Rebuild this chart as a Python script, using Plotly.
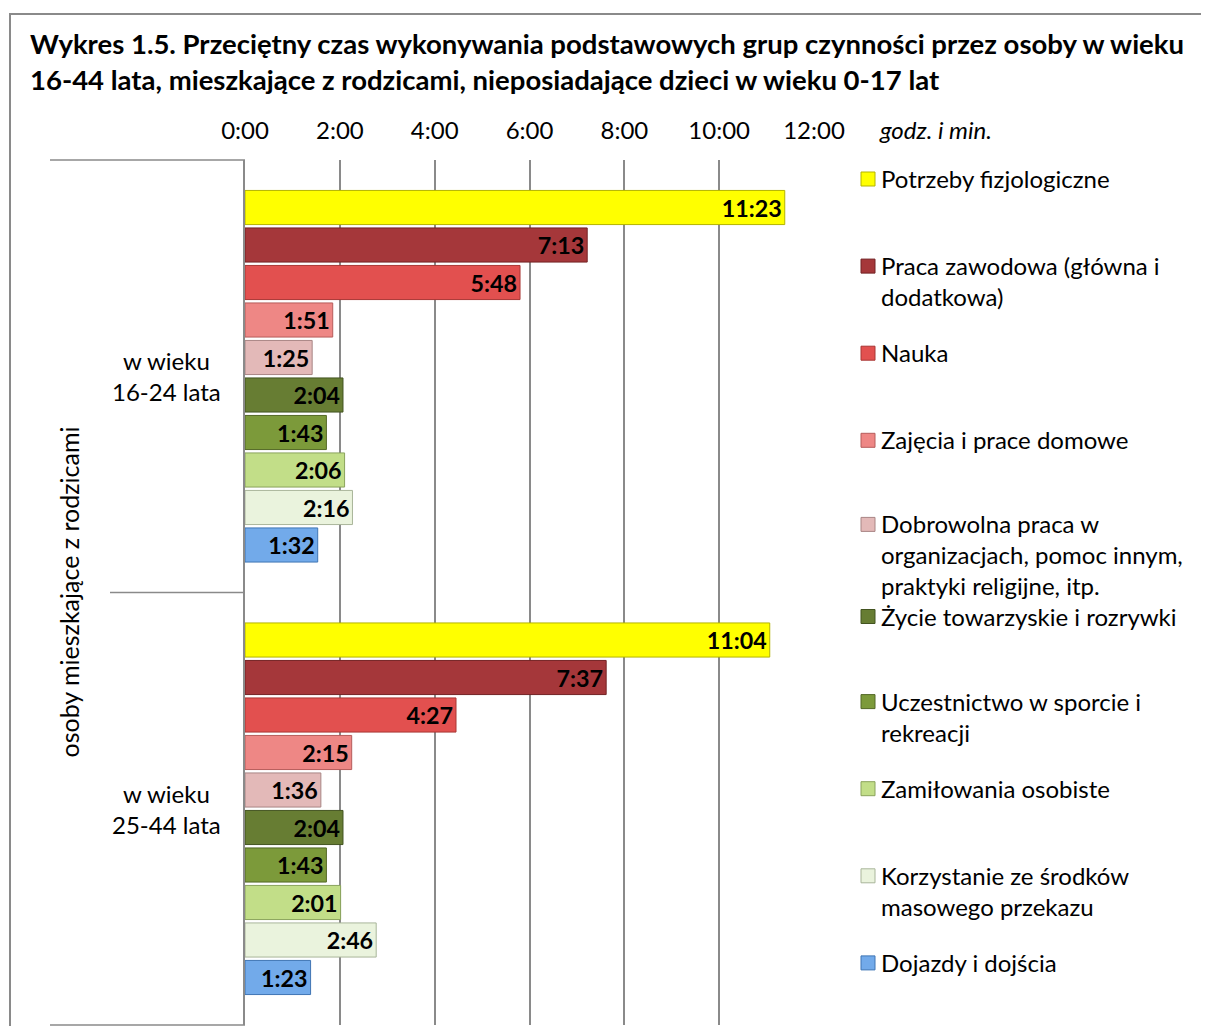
"""Average time spent on basic activity groups, people aged 16-44 living with parents."""
import plotly.graph_objects as go

groups = ["w wieku<br>16-24 lata", "w wieku<br>25-44 lata"]
activities = [
    "Potrzeby fizjologiczne",
    "Praca zawodowa (główna i<br>dodatkowa)",
    "Nauka",
    "Zajęcia i prace domowe",
    "Dobrowolna praca w<br>organizacjach, pomoc innym,<br>praktyki religijne, itp.",
    "Życie towarzyskie i rozrywki",
    "Uczestnictwo w sporcie i<br>rekreacji",
    "Zamiłowania osobiste",
    "Korzystanie ze środków<br>masowego przekazu",
    "Dojazdy i dojścia",
]
# minutes per day
minutes_16_24 = [683, 433, 348, 111, 85, 124, 103, 126, 136, 92]
minutes_25_44 = [664, 457, 267, 135, 96, 124, 103, 121, 166, 83]
tick_minutes = [0, 120, 240, 360, 480, 600, 720]
tick_labels = ["0:00", "2:00", "4:00", "6:00", "8:00", "10:00", "12:00"]

colors = ["#ffff00", "#a5373a", "#e2504f", "#ee8785", "#e3b9b8",
          "#677d33", "#7c9a3a", "#c2de88", "#eaf3dd", "#72aaea"]
edges = ["#b4b400", "#732224", "#a83634", "#b65c5a", "#a88584",
         "#435421", "#536826", "#8aa35c", "#a9b59a", "#3f75b4"]

FONT = "Lato"
OFF = 8  # page body margin
W, H = 1201, 1018
L, T = 245 - OFF, 160 - OFF
R, B = W - (814 - OFF), H - (1025 - OFF)
PW, PH = W - L - R, H - T - B


def px_x(x):
    """Page pixel x -> paper x."""
    return (x - OFF - L) / PW


def px_y(y):
    """Page pixel y -> paper y."""
    return (H - B - (y - OFF)) / PH


def hmm(m):
    return f"{m // 60}:{m % 60:02d}"


fig = go.Figure()
for i, name in enumerate(activities):
    vals = [minutes_16_24[i], minutes_25_44[i]]
    fig.add_trace(go.Bar(
        y=groups, x=vals, orientation="h", name=name,
        marker=dict(color=colors[i], line=dict(color=edges[i], width=1)),
        text=[hmm(v) for v in vals],
        textposition="inside", insidetextanchor="end", textangle=0,
        insidetextfont=dict(family=FONT, size=24, color="black", weight="bold"),
        hoverinfo="skip",
    ))

fig.update_layout(
    width=W, height=H,
    margin=dict(l=L, r=R, t=T, b=B),
    paper_bgcolor="white", plot_bgcolor="white",
    barmode="group", bargap=0.133, bargroupgap=0.09,
    showlegend=False,
    font=dict(family=FONT, size=24, color="black"),
    title=dict(
        text="Wykres 1.5. Przeciętny czas wykonywania podstawowych grup czynności przez osoby w wieku"
             "<br>16-44 lata, mieszkające z rodzicami, nieposiadające dzieci w wieku 0-17 lat",
        x=(30 - OFF) / W, xanchor="left", xref="container",
        y=1 - 46 / H, yanchor="middle", yref="container",
        font=dict(family=FONT, size=27.5, weight="bold", color="black"),
    ),
    xaxis=dict(
        side="top", range=[0, 720], tickvals=tick_minutes, ticktext=tick_labels,
        showgrid=True, gridcolor="#8a8a8a", gridwidth=1.5, zeroline=False,
        showline=False, ticks="", ticklabelstandoff=15,
        tickfont=dict(family=FONT, size=24),
    ),
    yaxis=dict(
        type="category", autorange="reversed", showticklabels=False,
        showgrid=False, showline=True, linecolor="#8a8a8a", linewidth=1.5,
        ticks="",
    ),
)

# category labels
for g in groups:
    fig.add_annotation(x=px_x(166), xref="paper", xanchor="center", y=g, yref="y",
                       text=g, showarrow=False, align="center", font=dict(size=24))

fig.add_annotation(x=px_x(68), xref="paper", xanchor="center", y=0.5, yref="paper",
                   text="osoby mieszkające z rodzicami", textangle=-90,
                   showarrow=False, font=dict(size=25))
fig.add_annotation(x=px_x(877), xref="paper", xanchor="left", y=px_y(130),
                   yref="paper", yanchor="middle", text="<i>godz. i min.</i>",
                   showarrow=False, font=dict(size=24))

# category divider lines
line = dict(color="#8a8a8a", width=1.5)
for x0, y in [(50, 0), (110, 0.5), (50, 1)]:
    fig.add_shape(type="line", xref="paper", yref="paper",
                  x0=px_x(x0), x1=0, y0=y, y1=y, line=line)

# legend, one entry every 87 px
for i, name in enumerate(activities):
    yc = 179 + 87.1 * i
    if i == 4:
        yc -= 3  # keep the three-line entry clear of the next one
    elif i == 5:
        yc += 2
    fig.add_shape(type="rect", xref="paper", yref="paper",
                  x0=px_x(861), x1=px_x(875), y0=px_y(yc + 7), y1=px_y(yc - 7),
                  fillcolor=colors[i], line=dict(color=edges[i], width=1))
    fig.add_annotation(x=px_x(879), xref="paper", xanchor="left",
                       y=px_y(yc - 17), yref="paper", yanchor="top",
                       text=name, align="left", showarrow=False,
                       font=dict(size=24))

# outer frame
fig.add_shape(type="rect", xref="paper", yref="paper",
              x0=px_x(10), x1=px_x(1300), y0=px_y(1100), y1=px_y(14),
              line=dict(color="#8a8a8a", width=2), layer="below")

fig.write_html("out.html")
